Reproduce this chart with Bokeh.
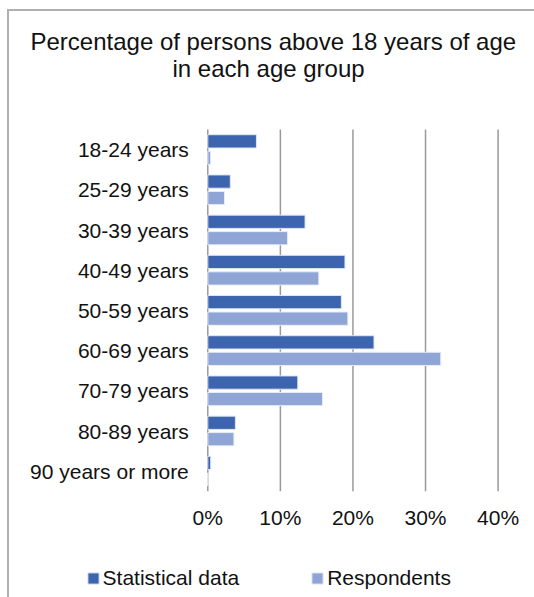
import numpy as np
from bokeh.plotting import figure
from bokeh.models import ColumnDataSource, Range1d, Label, Legend, LegendItem
from bokeh.core.properties import value
from bokeh.embed import file_html
from bokeh.resources import INLINE

# Age groups, top to bottom
categories = ["18-24 years", "25-29 years", "30-39 years", "40-49 years", "50-59 years",
              "60-69 years", "70-79 years", "80-89 years", "90 years or more"]
# Share of persons in each age group, percent
statistical = [6.7, 3.1, 13.4, 18.9, 18.4, 22.9, 12.4, 3.8, 0.4]
respondents = [0.4, 2.3, 11.0, 15.3, 19.3, 32.1, 15.8, 3.6, 0.0]
x_ticks = [0.0, 0.1, 0.2, 0.3, 0.4]
x_tick_labels = ["0%", "10%", "20%", "30%", "40%"]

title_lines = ["Percentage of persons above 18 years of age", "in each age group"]
series_names = ["Statistical data", "Respondents"]
colors = ["#3D64AE", "#8EA5D6"]
FONT = "Liberation Sans"
TEXT = "#111111"
BORDER = "#b0b0b0"
GRID = "#9a9a9a"

# page and plot-area geometry (pixels)
W, H = 534, 597
AREA_L, AREA_R = 207.3, 497.6
AREA_T, AREA_B = 129.0, 490.8

n = len(categories)
band = (AREA_B - AREA_T) / n
px_per_unit = (AREA_R - AREA_L) / x_ticks[-1]

p = figure(width=W, height=H, output_backend="svg", toolbar_location=None,
           x_axis_location=None, y_axis_location=None,
           min_border=0, min_border_left=0, min_border_right=0,
           min_border_top=0, min_border_bottom=0,
           x_range=Range1d(-AREA_L / px_per_unit, (W - AREA_L) / px_per_unit),
           # category index grows downward
           y_range=Range1d((H - AREA_T) / band - 0.5, -AREA_T / band - 0.5))
p.outline_line_color = None
p.background_fill_alpha = 0
p.border_fill_alpha = 0
p.grid.visible = False
# outer chart box: only its left and top edges fall inside the page
p.styles = {
    "background": (f"linear-gradient({BORDER},{BORDER}) 7px 9px / 2px 100% no-repeat, "
                   f"linear-gradient({BORDER},{BORDER}) 7px 9px / 100% 2px no-repeat, white"),
}

idx = np.arange(n)
src = ColumnDataSource(dict(
    cat=categories,
    y_stat=idx - 0.205,
    y_resp=idx + 0.205,
    stat=[v / 100 for v in statistical],
    resp=[v / 100 for v in respondents],
))

# vertical gridlines
p.segment(x0=x_ticks, x1=x_ticks, y0=-0.5, y1=n - 0.5,
          line_color=GRID, line_width=1.5)

r1 = p.hbar(y="y_stat", right="stat", left=0, height=0.33, source=src,
            fill_color=colors[0], line_color="#dfe5f2", line_width=1)
r2 = p.hbar(y="y_resp", right="resp", left=0, height=0.33, source=src,
            fill_color=colors[1], line_color="#e8edf7", line_width=1)

# category labels
p.text(x=0, y="idx", text="cat", source=ColumnDataSource(dict(idx=idx, cat=categories)),
       x_offset=-19, text_align="right", text_baseline="middle",
       text_font=value(FONT), text_font_size=value("21px"), text_color=TEXT)

# percentage tick labels
p.text(x=x_ticks, y=n - 0.5, text=x_tick_labels, y_offset=15,
       text_align="center", text_baseline="top",
       text_font=value(FONT), text_font_size=value("21px"), text_color=TEXT)

# two-line title
for line, left, base in ((title_lines[0], 30, 41), (title_lines[1], 172, 67.5)):
    p.add_layout(Label(x=left, y=H - base, x_units="screen", y_units="screen",
                       text=line, text_align="left", text_baseline="alphabetic",
                       text_font=FONT, text_font_size="24px", text_color=TEXT))

legend = Legend(items=[LegendItem(label=series_names[0], renderers=[r1]),
                       LegendItem(label=series_names[1], renderers=[r2])],
                location=(85.6, 7.5), orientation="horizontal",
                padding=0, margin=0, spacing=71, label_standoff=3,
                glyph_width=14, glyph_height=14, label_height=24,
                label_text_font=FONT, label_text_font_size="21px",
                label_text_color=TEXT,
                border_line_color=None, background_fill_alpha=0)
p.add_layout(legend, "center")

open("out.html", "w").write(file_html(p, INLINE))
